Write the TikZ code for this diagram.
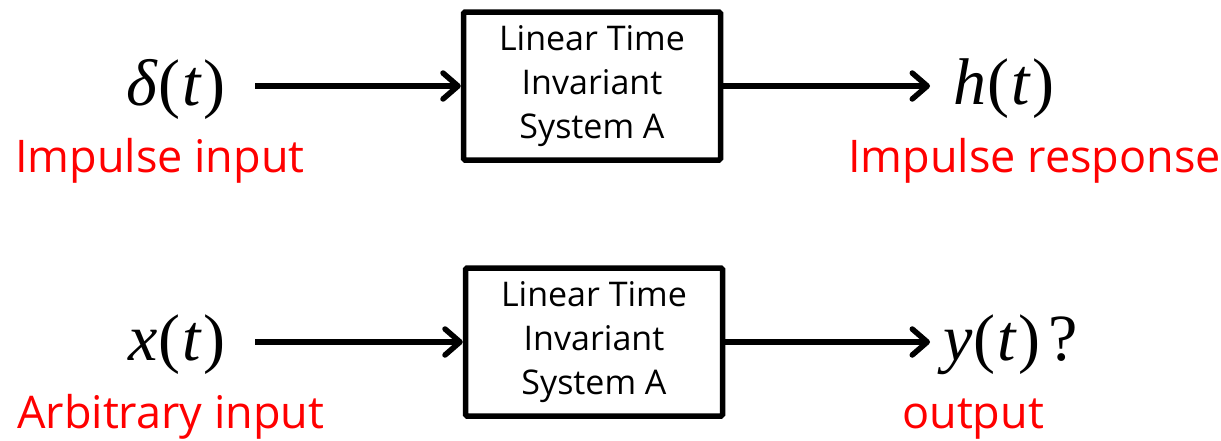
\documentclass[tikz,border=0pt]{standalone}
\usepackage{fontspec}
\setmainfont{Open Sans}
\newfontfamily\tnr{Liberation Serif}
\usetikzlibrary{arrows.meta}

\begin{document}
\begin{tikzpicture}[x=1pt,y=1pt,
  ltibox/.style={draw, line width=5.5pt, rounded corners=1.5pt,
    minimum width=257pt, minimum height=148pt, align=center,
    font=\fontsize{34}{44}\selectfont, inner sep=0pt},
  sig/.style={font=\tnr\fontsize{66}{66}\selectfont, inner sep=0pt},
  lbl/.style={text=red, font=\fontsize{45}{50}\selectfont, inner sep=0pt, anchor=base west},
  flow/.style={line width=5.5pt, -{Straight Barb[length=15pt, width=26pt, round]}}]
\useasboundingbox (0,0) rectangle (1221,-440);

% upper chain: impulse in, impulse response out
\node[ltibox] (sys1) at (592,-86) {Linear Time\\Invariant\\System A};
\node[sig, anchor=east] (din) at (226,-89) {{\itshape δ}\kern1pt(\kern2pt{\itshape t}\kern3pt)};
\node[sig, anchor=west] (hout) at (953,-89) {{\itshape h}\kern1pt(\kern2pt{\itshape t}\kern3pt)};
\node[lbl] (l1) at (15,-172) {Impulse input};
\node[lbl] (l2) at (848,-172) {Impulse response};
\draw[flow] (din.east |- sys1.west) ++(29,0) -- (sys1.west);
\draw[flow] (sys1.east) -- ([xshift=-23pt]hout.west |- sys1.east);

% lower chain: arbitrary input, unknown output
\node[ltibox] (sys2) at (594,-342) {Linear Time\\Invariant\\System A};
\node[sig, anchor=east] (xin) at (226,-345) {{\itshape x}\kern1pt(\kern2pt{\itshape t}\kern3pt)};
\node[sig, anchor=west] (yout) at (943,-345) {{\itshape y}\kern1pt(\kern2pt{\itshape t}\kern3pt)\kern8pt?};
\node[lbl] (l3) at (17,-428) {Arbitrary input};
\node[lbl] (l4) at (902,-428) {output};
\draw[flow] (xin.east |- sys2.west) ++(29,0) -- (sys2.west);
\draw[flow] (sys2.east) -- ([xshift=-13pt]yout.west |- sys2.east);
\end{tikzpicture}
\end{document}
